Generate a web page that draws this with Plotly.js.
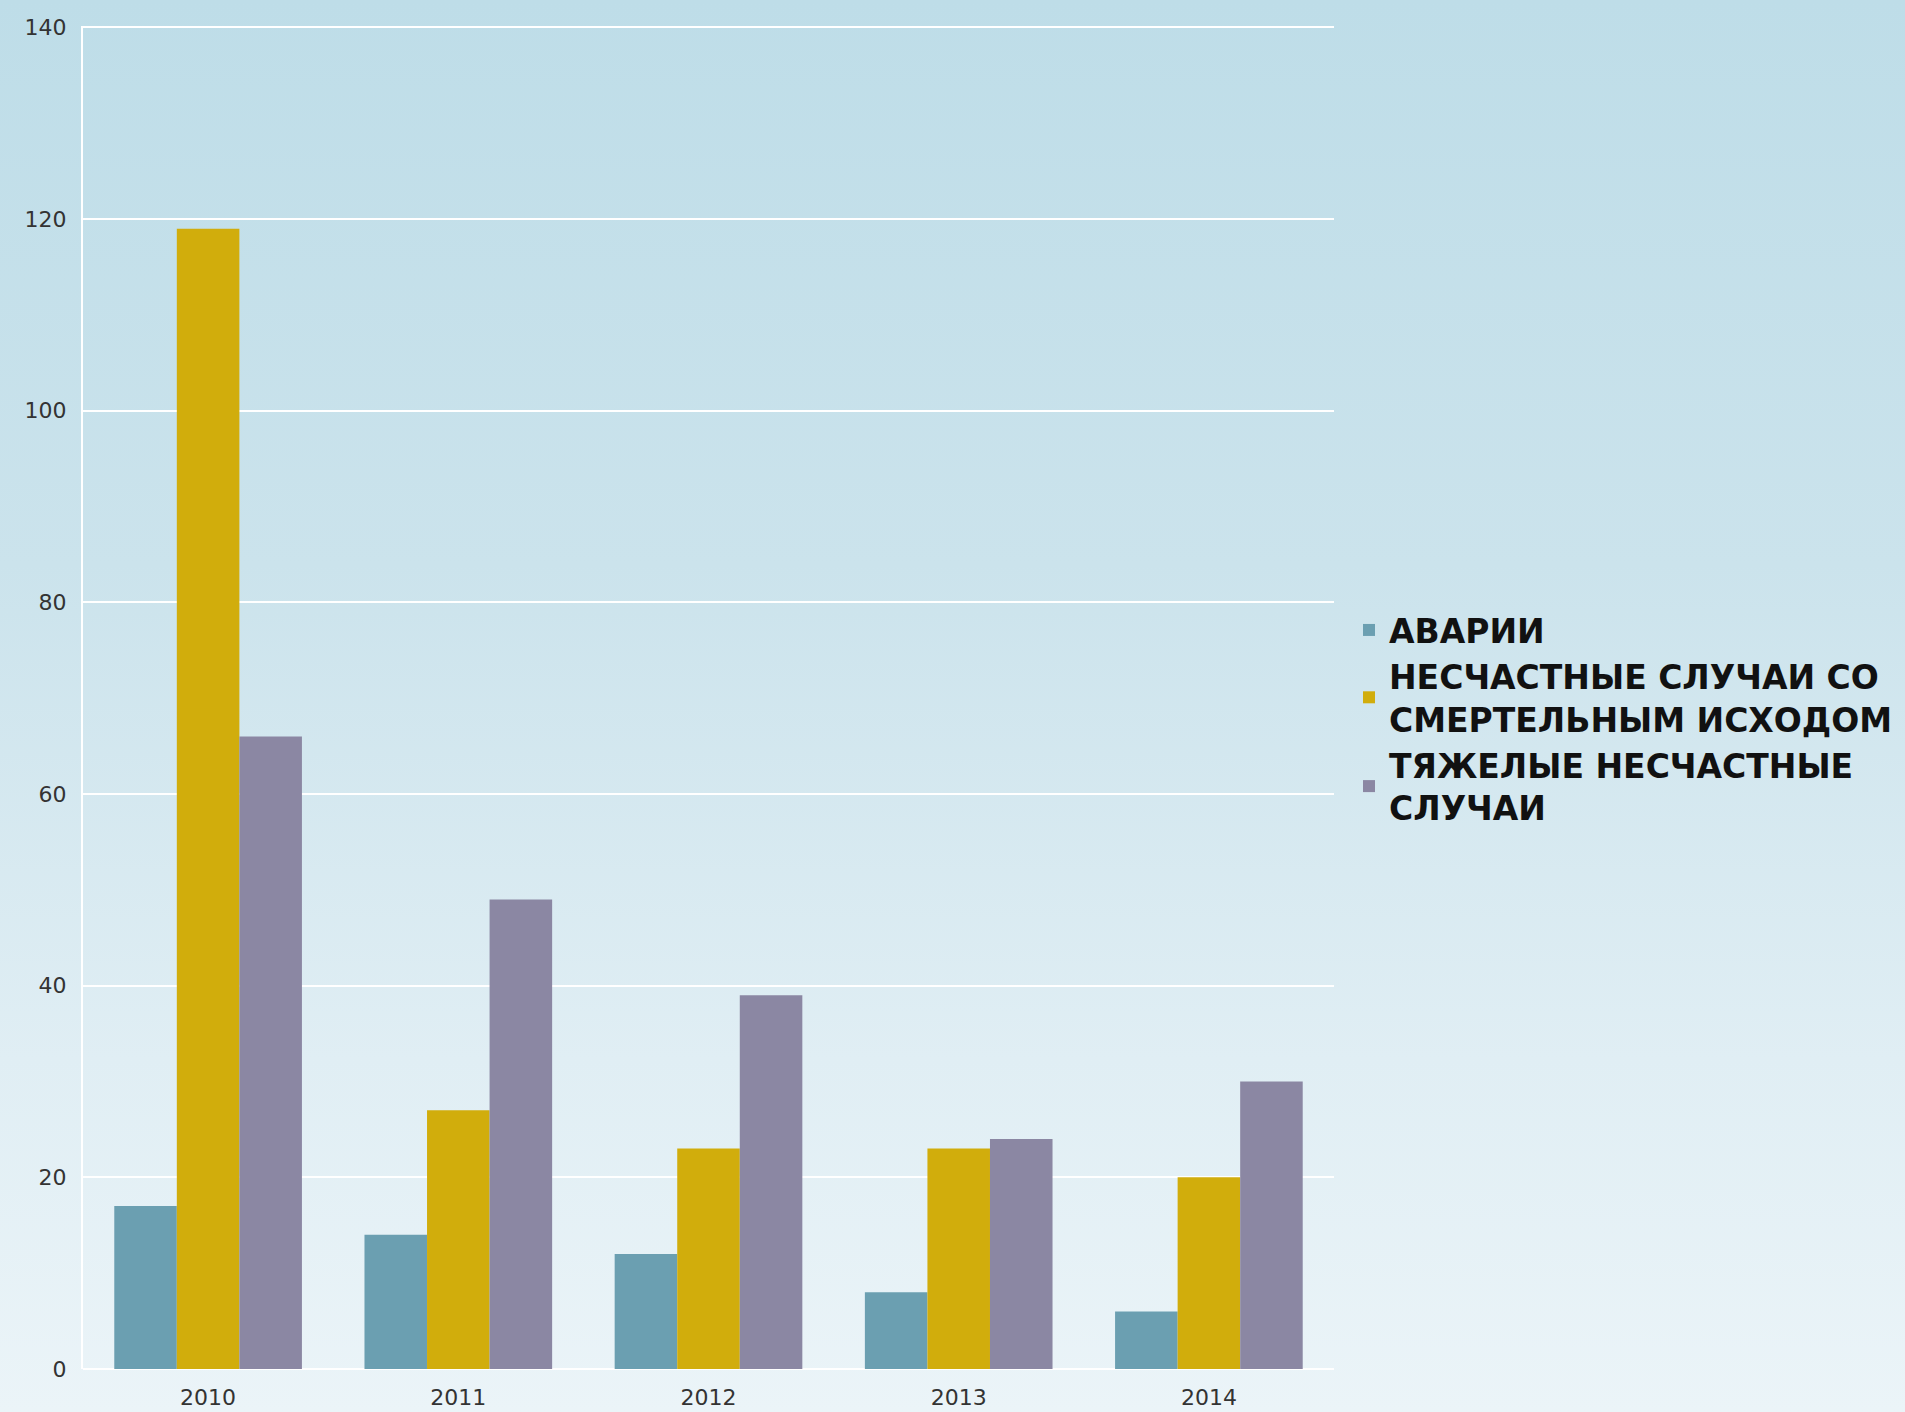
<!DOCTYPE html>
<html>
<head>
<meta charset="utf-8">
<script src="https://cdn.plot.ly/plotly-3.0.1.min.js"></script>
<style>
html, body { margin: 0; padding: 0; }
body {
  width: 1905px; height: 1412px; overflow: hidden;
  background: linear-gradient(to bottom, #bedde8 0%, #cbe3ec 40%, #e0eef4 75%, #ebf4f8 100%);
}
#chart { width: 1905px; height: 1412px; }
</style>
</head>
<body>
<div id="chart"></div>
<script>
const years = ['2010', '2011', '2012', '2013', '2014'];
const seriesNames = [
  'АВАРИИ',
  'НЕСЧАСТНЫЕ СЛУЧАИ СО<br>СМЕРТЕЛЬНЫМ ИСХОДОМ',
  'ТЯЖЕЛЫЕ НЕСЧАСТНЫЕ<br>СЛУЧАИ'
];
const avarii = [17, 14, 12, 8, 6];
const smertelnye = [119, 27, 23, 23, 20];
const tyazhelye = [66, 49, 39, 24, 30];
const yTicks = [0, 20, 40, 60, 80, 100, 120, 140];
const colors = ['#6b9fb1', '#d1ad0c', '#8b87a3'];

const allValues = [avarii, smertelnye, tyazhelye];
const traces = allValues.map((vals, i) => ({
  type: 'bar',
  name: seriesNames[i],
  x: years,
  y: vals,
  marker: { color: colors[i], line: { width: 0 } },
  hoverinfo: 'x+y+name'
}));

const tickFont = { size: 22, color: '#333333', family: 'DejaVu Sans, sans-serif' };

const layout = {
  width: 1905,
  height: 1412,
  paper_bgcolor: 'rgba(0,0,0,0)',
  plot_bgcolor: 'rgba(0,0,0,0)',
  margin: { l: 83, r: 571, t: 26, b: 43 },
  barmode: 'group',
  bargap: 0.25,
  bargroupgap: 0,
  font: { family: 'DejaVu Sans, sans-serif', color: '#333333' },
  xaxis: {
    type: 'category',
    tickvals: years,
    ticktext: years,
    showgrid: false,
    zeroline: false,
    showline: false,
    ticks: '',
    tickfont: tickFont,
    ticklabelstandoff: 13
  },
  yaxis: {
    range: [0, 140.15],
    tickvals: yTicks,
    ticktext: yTicks.map(String),
    showgrid: true,
    gridcolor: '#ffffff',
    gridwidth: 2,
    zeroline: true,
    zerolinecolor: '#ffffff',
    zerolinewidth: 2,
    showline: true,
    linecolor: '#ffffff',
    linewidth: 2,
    ticks: '',
    tickfont: tickFont,
    ticklabelstandoff: 10
  },
  showlegend: true,
  legend: {
    xref: 'container',
    yref: 'container',
    x: 1349 / 1905,
    xanchor: 'left',
    y: 1 - 719 / 1412,
    yanchor: 'middle',
    bgcolor: 'rgba(0,0,0,0)',
    borderwidth: 0,
    tracegroupgap: 0,
    itemwidth: 30,
    valign: 'middle',
    font: { size: 33, color: '#111111', family: 'DejaVu Sans, sans-serif', weight: 'bold' }
  }
};

Plotly.newPlot('chart', traces, layout, { displayModeBar: false, staticPlot: true });
</script>
</body>
</html>
